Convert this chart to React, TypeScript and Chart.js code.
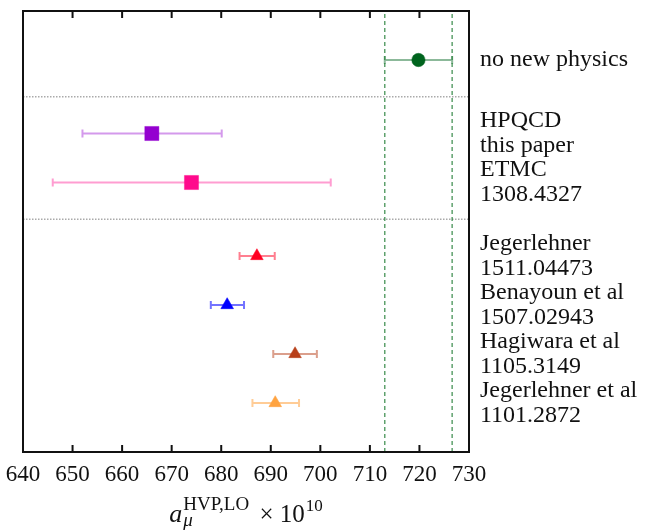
import React, { useEffect, useRef } from "react";
import { Chart, registerables } from "chart.js";

Chart.register(...registerables);

const rowLabels: (string | string[])[] = [
  "no new physics",
  ["HPQCD", "this paper"],
  ["ETMC", "1308.4327"],
  ["Jegerlehner", "1511.04473"],
  ["Benayoun et al", "1507.02943"],
  ["Hagiwara et al", "1105.3149"],
  ["Jegerlehner et al", "1101.2872"],
];
const rowPositions = [8, 6.5, 5.5, 4, 3, 2, 1];
const centralValues = [719.8, 666.0, 674.0, 687.2, 681.2, 694.9, 690.9];
const errLow = [713.0, 652.0, 646.0, 683.7, 677.9, 690.5, 686.3];
const errHigh = [726.6, 680.1, 702.1, 690.8, 684.6, 699.3, 695.7];
const markerColors = ["#00641e", "#9400d0", "#ff0a8c", "#ff0022", "#0000ff", "#b8401a", "#ffa340"];
const barColors = [
  "rgba(0,100,30,0.45)",
  "rgba(148,0,208,0.4)",
  "rgba(255,10,140,0.4)",
  "rgba(255,0,34,0.5)",
  "rgba(0,0,255,0.55)",
  "rgba(184,64,26,0.5)",
  "rgba(255,163,64,0.55)",
];
const markerStyles = ["circle", "rect", "rect", "triangle", "triangle", "triangle", "triangle"];
const markerRadii = [6.7, 10, 10, 7.3, 7.3, 7.3, 7.3];
const xTicks = [640, 650, 660, 670, 680, 690, 700, 710, 720, 730];
const separators = [4.75, 7.25];
const bandEdges = [713.0, 726.6];
const X_MIN = 640;
const X_MAX = 730;
const Y_MIN = 0;
const Y_MAX = 9;

const FONT = "'Liberation Serif', 'Times New Roman', serif";

const framePlugin = {
  id: "framePlugin",
  beforeDatasetsDraw(chart: any) {
    const ctx = chart.ctx;
    const xs = chart.scales.x;
    const ys = chart.scales.y;
    ctx.save();
    ctx.lineWidth = 2;
    for (let i = 0; i < centralValues.length; i++) {
      const y = ys.getPixelForValue(rowPositions[i]);
      const x1 = xs.getPixelForValue(errLow[i]);
      const x2 = xs.getPixelForValue(errHigh[i]);
      ctx.strokeStyle = barColors[i];
      ctx.beginPath();
      ctx.moveTo(x1, y);
      ctx.lineTo(x2, y);
      ctx.moveTo(x1, y - 4);
      ctx.lineTo(x1, y + 4);
      ctx.moveTo(x2, y - 4);
      ctx.lineTo(x2, y + 4);
      ctx.stroke();
    }
    ctx.restore();
  },
  afterDraw(chart: any) {
    const ctx = chart.ctx;
    const a = chart.chartArea;
    const xs = chart.scales.x;
    ctx.save();
    ctx.strokeStyle = "#111";
    ctx.lineWidth = 2;
    ctx.strokeRect(a.left, a.top, a.right - a.left, a.bottom - a.top);
    ctx.beginPath();
    for (const v of xTicks) {
      if (v === X_MIN || v === X_MAX) continue;
      const x = xs.getPixelForValue(v);
      ctx.moveTo(x, a.top);
      ctx.lineTo(x, a.top + 7);
      ctx.moveTo(x, a.bottom);
      ctx.lineTo(x, a.bottom - 7);
    }
    ctx.stroke();

    // axis title: a_mu^{HVP,LO} x 10^10
    const big = `25px ${FONT}`;
    const bigItalic = `italic 26px ${FONT}`;
    const small = `19px ${FONT}`;
    const smallItalic = `italic 19px ${FONT}`;
    const expFont = `17px ${FONT}`;
    ctx.fillStyle = "#111";
    ctx.textBaseline = "alphabetic";
    ctx.textAlign = "left";
    ctx.font = bigItalic;
    const wA = ctx.measureText("a").width;
    ctx.font = small;
    const wSup = ctx.measureText("HVP,LO").width;
    ctx.font = smallItalic;
    const wSub = ctx.measureText("\u03bc").width;
    ctx.font = big;
    const wTimes = ctx.measureText(" \u00d7 10").width;
    ctx.font = expFont;
    const wExp = ctx.measureText("10").width;
    const total = wA + 1 + Math.max(wSup, wSub) + 4 + wTimes + 1 + wExp;
    let x = (a.left + a.right) / 2 - total / 2;
    const base = 522;
    ctx.font = bigItalic;
    ctx.fillText("a", x, base);
    x += wA + 1;
    ctx.font = smallItalic;
    ctx.fillText("\u03bc", x, base + 4);
    ctx.font = small;
    ctx.fillText("HVP,LO", x, base - 12);
    x += Math.max(wSup, wSub) + 4;
    ctx.font = big;
    ctx.fillText(" \u00d7 10", x, base);
    x += wTimes + 1;
    ctx.font = expFont;
    ctx.fillText("10", x, base - 11);
    ctx.restore();
  },
};

export default function App() {
  const canvasRef = useRef<HTMLCanvasElement | null>(null);

  useEffect(() => {
    const canvas = canvasRef.current;
    if (!canvas) return;
    const labelFor = (v: number) => {
      const i = rowPositions.indexOf(v);
      return i >= 0 ? rowLabels[i] : "";
    };
    const datasets: any[] = [
      {
        type: "scatter",
        data: centralValues.map((v, i) => ({ x: v, y: rowPositions[i] })),
        pointStyle: markerStyles,
        pointRadius: markerRadii,
        backgroundColor: markerColors,
        borderColor: barColors,
        borderWidth: 1,
      },
      ...bandEdges.map((bx) => ({
        type: "line",
        data: [
          { x: bx, y: Y_MIN },
          { x: bx, y: Y_MAX },
        ],
        borderColor: "rgba(40,130,60,0.75)",
        borderDash: [4, 3],
        borderWidth: 1.5,
        pointRadius: 0,
        fill: false,
      })),
      ...separators.map((sy) => ({
        type: "line",
        data: [
          { x: X_MIN, y: sy },
          { x: X_MAX, y: sy },
        ],
        borderColor: "#aaaaaa",
        borderDash: [1.5, 1.5],
        borderWidth: 1.5,
        pointRadius: 0,
        fill: false,
      })),
    ];

    const chart = new Chart(canvas, {
      type: "scatter",
      data: { datasets },
      options: {
        animation: false,
        responsive: false,
        maintainAspectRatio: false,
        layout: { padding: { top: 8, left: 23, right: 0, bottom: 0 } },
        plugins: { legend: { display: false }, tooltip: { enabled: false } },
        scales: {
          x: {
            type: "linear",
            min: X_MIN,
            max: X_MAX,
            position: "bottom",
            grid: { display: false, drawTicks: false },
            border: { display: false },
            afterBuildTicks: (s: any) => {
              s.ticks = xTicks.map((v) => ({ value: v }));
            },
            ticks: {
              color: "#111",
              font: { family: FONT, size: 23 },
              padding: 9,
              maxRotation: 0,
              autoSkip: false,
            },
            afterFit: (s: any) => {
              s.height = 78;
              s.paddingLeft = 0;
              s.paddingRight = 0;
              s.paddingTop = 0;
              s.paddingBottom = 0;
            },
          },
          y: {
            type: "linear",
            min: Y_MIN,
            max: Y_MAX,
            position: "right",
            grid: { display: false, drawTicks: false },
            border: { display: false },
            afterBuildTicks: (s: any) => {
              s.ticks = rowPositions
                .slice()
                .sort((p, q) => p - q)
                .map((v) => ({ value: v }));
            },
            ticks: {
              callback: (v: any) => labelFor(Number(v)),
              color: "#111",
              font: { family: FONT, size: 24, lineHeight: 1.03 },
              padding: 11,
              crossAlign: "near",
              autoSkip: false,
            },
            afterFit: (s: any) => {
              s.width = 187;
              s.paddingLeft = 0;
              s.paddingRight = 0;
              s.paddingTop = 0;
              s.paddingBottom = 0;
            },
          },
        },
      } as any,
      plugins: [framePlugin],
    });
    return () => chart.destroy();
  }, []);

  return (
    <div style={{ position: "fixed", left: 0, top: 0, width: 656, height: 530, background: "#fff" }}>
      <canvas ref={canvasRef} width={656} height={530} style={{ display: "block" }} />
    </div>
  );
}
